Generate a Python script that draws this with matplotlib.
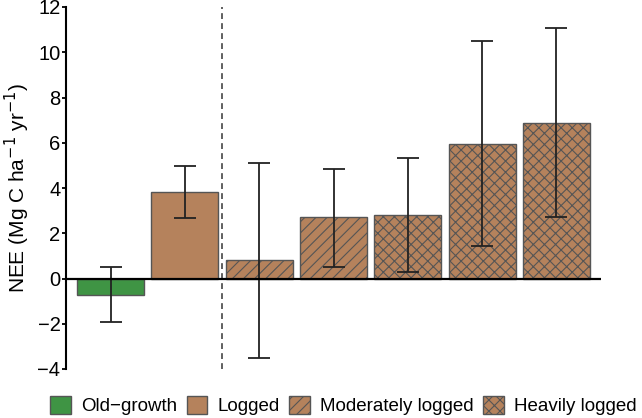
import matplotlib
matplotlib.use("Agg")
import matplotlib.pyplot as plt
from matplotlib.patches import Patch
import numpy as np

plt.rcParams['font.family'] = ['Liberation Sans', 'DejaVu Sans']
plt.rcParams['hatch.linewidth'] = 0.8

groups = ["Old\u2212growth", "Logged", "Moderately logged", "Heavily logged"]
bar_group = [0, 1, 2, 2, 3, 3, 3]
values = [-0.71, 3.83, 0.80, 2.70, 2.80, 5.96, 6.89]
err_low = [-1.94, 2.69, -3.52, 0.49, 0.27, 1.42, 2.72]
err_high = [0.51, 4.97, 5.10, 4.85, 5.34, 10.50, 11.07]
yticks = [-4, -2, 0, 2, 4, 6, 8, 10, 12]

colors = ["#3f9444", "#b5825c", "#b5825c", "#b5825c"]
hatches = [None, None, "///", "xxx"]

fig = plt.figure(figsize=(6.42, 4.18), dpi=100)
ax = fig.add_axes([66/642, 1-369/418, (601-66)/642, (369-7)/418])

x = np.arange(len(values))
vals = np.array(values)
yerr = np.array([vals - np.array(err_low), np.array(err_high) - vals])

for i, g in enumerate(bar_group):
    ax.bar(x[i], values[i], width=0.9, color=colors[g], edgecolor="#555555",
           linewidth=1.0, hatch=hatches[g], zorder=2)
ax.errorbar(x, vals, yerr=yerr, fmt="none", ecolor="#222222", elinewidth=1.3,
            capsize=8, capthick=1.3, zorder=3)

ax.axhline(0, color="black", lw=1.6, zorder=4)
ax.axvline(1.5, color="#444444", lw=1.2, ls=(0, (3.5, 2.5)), zorder=1)

ax.set_xlim(-0.6, 6.6)
ax.set_ylim(-4, 12)
ax.set_yticks(yticks)
ax.set_xticks([])
for s in ["top", "right", "bottom"]:
    ax.spines[s].set_visible(False)
ax.spines["left"].set_linewidth(1.5)
ax.tick_params(axis="y", labelsize=14.5, length=3, width=1.3, pad=1)
ax.set_ylabel("NEE (Mg C ha$^{-1}$ yr$^{-1}$)", fontsize=15, labelpad=4)

handles = [Patch(facecolor=colors[k], edgecolor="#555555", hatch=hatches[k], label=groups[k])
           for k in range(4)]
fig.legend(handles=handles, loc="lower center", bbox_to_anchor=(0.535, 0.0), ncol=4,
           frameon=False, fontsize=13.5, handlelength=1.1, handleheight=1.1,
           handletextpad=0.55, columnspacing=0.5, borderaxespad=0.0, borderpad=0.15)

fig.savefig("out.png", dpi=100)
